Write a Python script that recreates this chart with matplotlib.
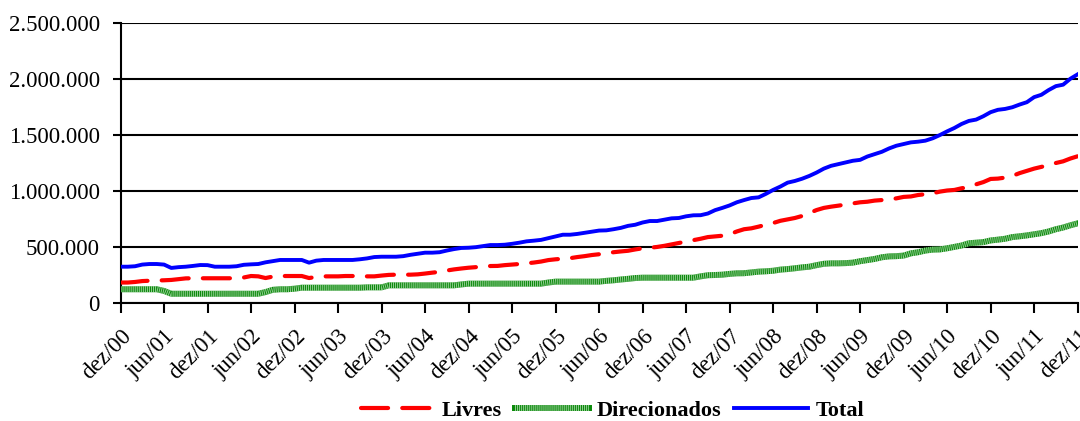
import numpy as np
import matplotlib
matplotlib.use("Agg")
import matplotlib.pyplot as plt
from matplotlib.ticker import FuncFormatter

# Saldos mensais dez/00 a dez/11 (em milhares)
livres = [185, 185, 190, 198, 201, 203, 205, 208, 215, 222, 223, 223, 223, 223, 223, 223, 224,
          230, 243, 240, 225, 238, 243, 243, 243, 243, 225, 235, 240, 240, 240, 243, 243, 243,
          240, 240, 247, 253, 255, 255, 255, 258, 265, 273, 280, 292, 302, 310, 317, 322, 330,
          332, 333, 340, 345, 350, 356, 363, 372, 385, 392, 397, 402, 412, 420, 430, 437,
          447, 455, 462, 468, 480, 490, 495, 502, 512, 525, 537, 550, 562, 575, 590, 596, 602,
          615, 640, 660, 668, 683, 700, 715, 735, 748, 760, 778, 805, 831, 850, 861, 870,
          880, 890, 900, 905, 915, 920, 925, 935, 948, 952, 965, 972, 980, 995, 1005, 1010,
          1025, 1035, 1060, 1080, 1108, 1111, 1120, 1135, 1160, 1180, 1200, 1215, 1231, 1250,
          1265, 1290, 1310]
direcionados = [125, 125, 125, 125, 125, 125, 110, 85, 85, 85, 85, 85, 85, 85, 85, 85, 85,
                85, 85, 85, 100, 120, 125, 125, 130, 139, 139, 139, 139, 139, 139, 139, 139, 139,
                142, 142, 142, 160, 160, 160, 160, 160, 160, 160, 160, 160, 160, 168, 175, 175,
                175, 175, 175, 175, 175, 175, 175, 175, 175, 185, 193, 193, 193, 193, 193, 193, 193,
                200, 205, 212, 218, 225, 228, 228, 228, 228, 228, 228, 228, 228, 240, 250, 252, 255,
                262, 267, 268, 275, 282, 285, 290, 300, 305, 312, 320, 326, 340, 352, 356, 356,
                358, 362, 375, 385, 395, 410, 418, 420, 425, 445, 455, 470, 478, 480, 490, 502,
                515, 535, 540, 545, 560, 567, 575, 590, 597, 605, 615, 625, 640, 660, 675, 695, 712]
total = [326, 326, 330, 345, 350, 350, 345, 315, 322, 326, 333, 341, 340, 326, 326, 326, 330,
         343, 347, 350, 365, 375, 386, 386, 386, 386, 362, 380, 386, 386, 386, 386, 386, 392,
         400, 412, 415, 415, 415, 420, 432, 442, 451, 451, 455, 470, 483, 493, 495, 500, 510,
         519, 519, 522, 530, 540, 552, 558, 565, 580, 595, 611, 611, 618, 628, 638, 648,
         650, 660, 672, 690, 700, 720, 733, 733, 745, 757, 760, 775, 784, 785, 800, 830, 850,
         872, 900, 920, 938, 944, 975, 1010, 1040, 1075, 1090, 1110, 1135, 1165, 1200, 1225, 1240,
         1254, 1270, 1278, 1308, 1329, 1350, 1380, 1404, 1419, 1434, 1440, 1449, 1470, 1499, 1532,
         1562, 1598, 1625, 1637, 1667, 1703, 1724, 1732, 1747, 1771, 1792, 1837, 1858, 1900, 1935,
         1948, 2001, 2040]
rotulos = ["dez/00", "jun/01", "dez/01", "jun/02", "dez/02", "jun/03", "dez/03", "jun/04",
           "dez/04", "jun/05", "dez/05", "jun/06", "dez/06", "jun/07", "dez/07", "jun/08",
           "dez/08", "jun/09", "dez/09", "jun/10", "dez/10", "jun/11", "dez/11"]

plt.rcParams['font.family'] = ['Liberation Serif', 'DejaVu Serif']

x = np.arange(len(total))
fig = plt.figure(figsize=(10.8, 4.21), dpi=100)
ax = fig.add_axes([0.1116, 0.2796, 0.8862, 0.6664])

l1, = ax.plot(x, np.array(livres) * 1000, color='#ff0000', lw=3, dashes=(6.5, 3.4),
              dash_capstyle='round', zorder=4)
# linha "xadrez" verde : base verde + tracos brancos tres fins
g1, = ax.plot(x, np.array(direcionados) * 1000, color='#0a8a0a', lw=4.3, zorder=3)
g2, = ax.plot(x, np.array(direcionados) * 1000, color='white', lw=4.3, dashes=(0.17, 0.17),
              alpha=0.55, zorder=3)
t1, = ax.plot(x, np.array(total) * 1000, color='#0000ff', lw=2.8, zorder=5)

ax.set_xlim(0, len(total) - 1)
ax.set_ylim(0, 2500000)
ax.set_yticks(np.arange(0, 2500001, 500000))
ax.yaxis.set_major_formatter(FuncFormatter(lambda v, p: f"{v:,.0f}".replace(",", ".")))
ax.grid(axis='y', color='black', lw=1.5, zorder=1)
ax.set_xticks(np.arange(0, len(total), 6))
ax.set_xticklabels(rotulos, rotation=45, ha='right', va='top', rotation_mode='anchor')
ax.tick_params(axis='y', labelsize=16.5, length=6, width=1.5, pad=9)
ax.tick_params(axis='x', labelsize=16.5, length=7, width=1.5, pad=9)
for s in ['top', 'right']:
    ax.spines[s].set_visible(False)
for s in ['left', 'bottom']:
    ax.spines[s].set_linewidth(1.5)

fig.legend([l1, (g1, g2), t1], ["Livres", "Direcionados", "Total"], loc='center',
           bbox_to_anchor=(0.567, 0.025), ncol=3, frameon=False, handlelength=3.3,
           handletextpad=0.35, columnspacing=0.6, prop={'weight': 'bold', 'size': 16})

fig.savefig("out.png", dpi=100)
